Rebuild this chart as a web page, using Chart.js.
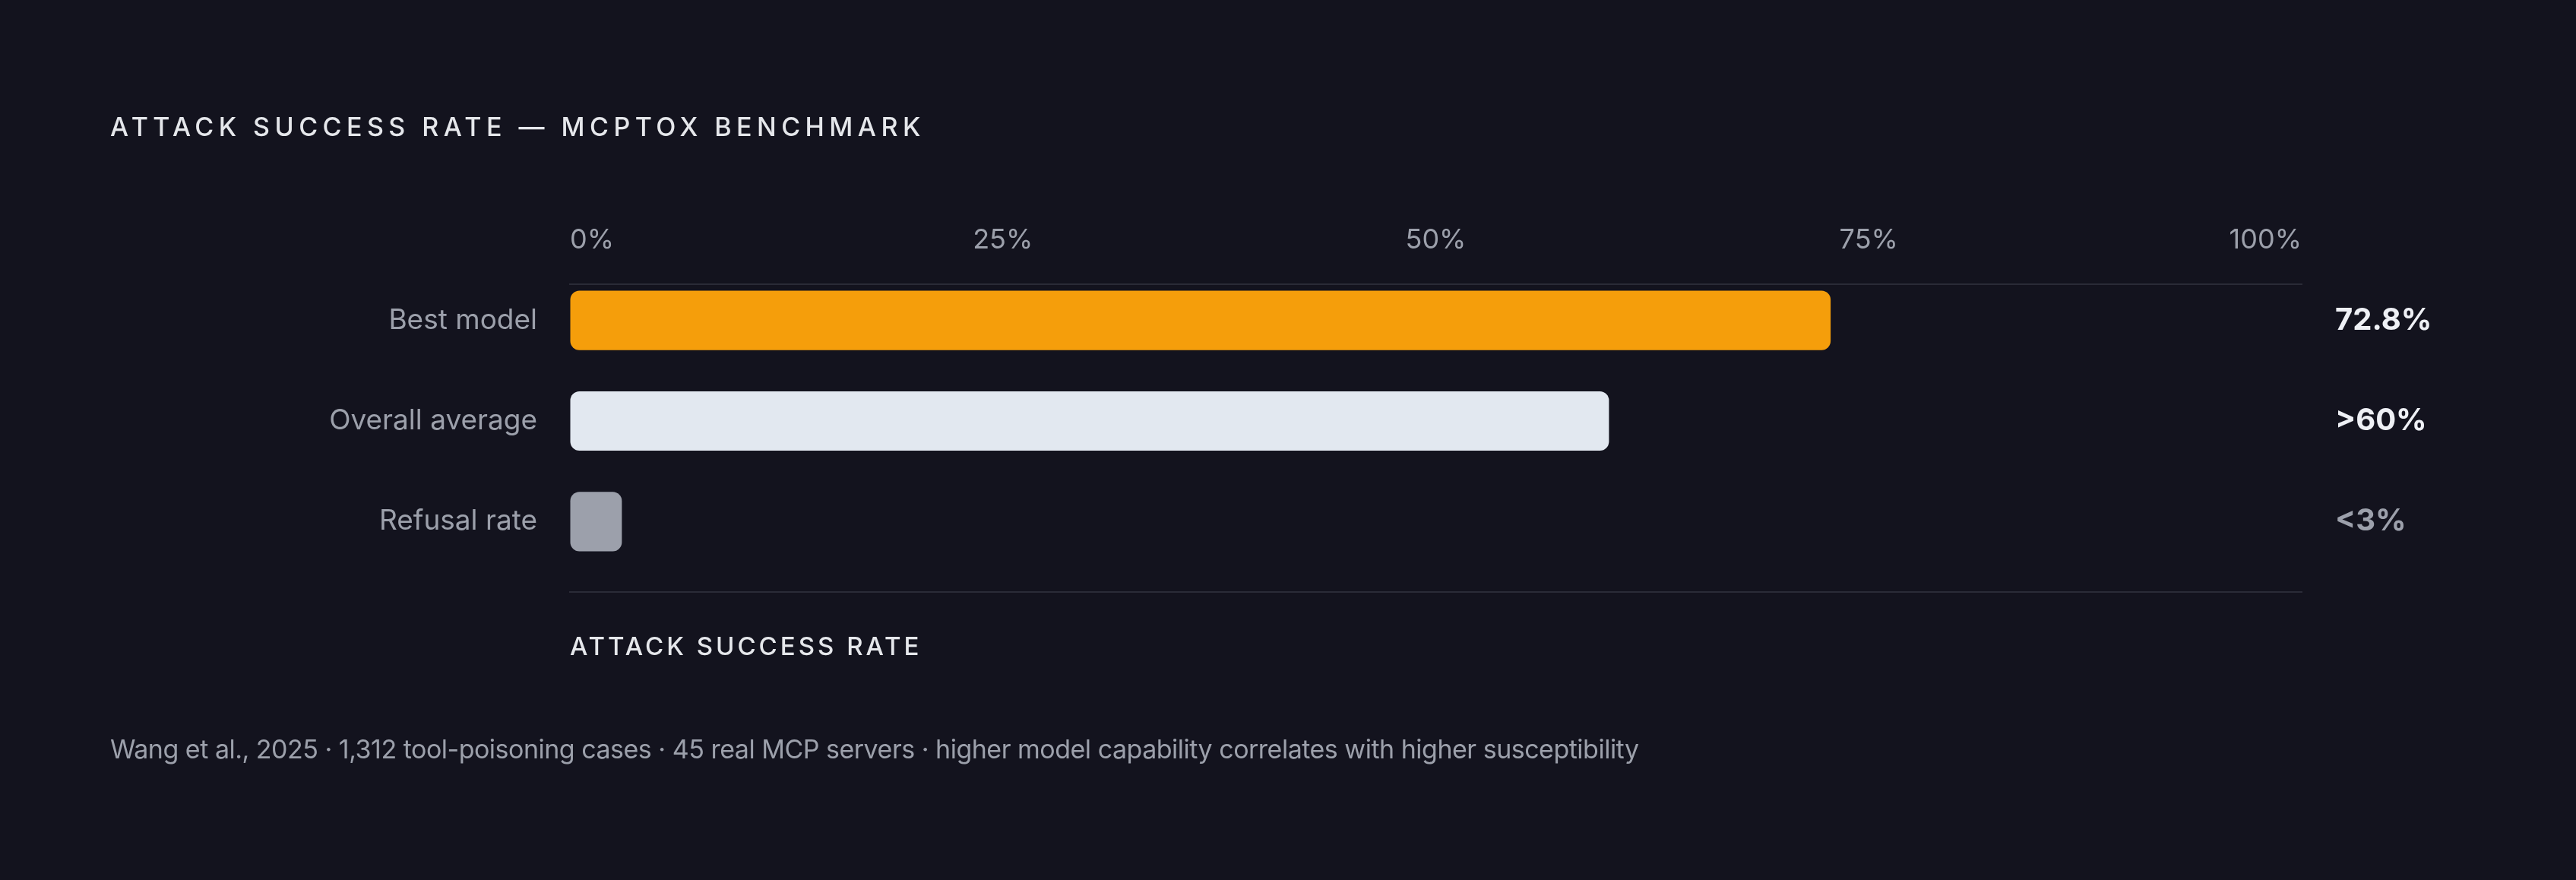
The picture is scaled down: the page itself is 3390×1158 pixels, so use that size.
<!DOCTYPE html>
<html>
<head>
    <title>Attack Success Rate — MCPTox Benchmark</title>
    <script src="https://cdn.jsdelivr.net/npm/chart.js"></script>
    <style>
        body {
            margin: 0;
            background: #13131e;
            font-family: Inter, "Noto Sans", sans-serif;
        }
        .wrap {
            position: relative;
            width: 3390px;
            height: 1158px;
        }
        .title {
            position: absolute;
            left: 145px;
            top: 150px;
            font-size: 34px;
            line-height: 1;
            font-weight: 500;
            letter-spacing: 0.19em;
            color: #e5e7eb;
            white-space: nowrap;
        }
        .note {
            position: absolute;
            left: 145px;
            top: 969px;
            font-size: 34px;
            line-height: 1;
            letter-spacing: -0.5px;
            color: #9ca0ab;
            white-space: nowrap;
        }
        .chart-box {
            position: absolute;
            left: 0;
            top: 0;
            width: 3390px;
            height: 1158px;
        }
    </style>
</head>
<body>
    <div class="wrap">
        <div class="chart-box"><canvas id="asrChart"></canvas></div>
        <div class="title">ATTACK SUCCESS RATE — MCPTOX BENCHMARK</div>
        <div class="note">Wang et al., 2025 · 1,312 tool-poisoning cases · 45 real MCP servers · higher model capability correlates with higher susceptibility</div>
    </div>

    <script>
        // Chart data
        const categories = ['Best model', 'Overall average', 'Refusal rate'];
        const rates = [72.8, 60, 3];
        const rateLabels = ['72.8%', '>60%', '<3%'];
        const barColors = ['#f59e0b', '#e2e8f0', '#9ca0ab'];
        const labelColors = ['#eef0f5', '#eef0f5', '#9ca0ab'];
        const axisTitle = 'ATTACK SUCCESS RATE';

        const lineColor = '#2a2b37';
        const mutedText = '#9ca0ab';

        // Value labels right of the plot and the spaced axis title below it
        const annotate = {
            id: 'annotate',
            afterDatasetsDraw(chart) {
                const { ctx, chartArea } = chart;
                const bars = chart.getDatasetMeta(0).data;
                ctx.save();
                ctx.font = '700 40px Inter, "Noto Sans", sans-serif';
                ctx.textBaseline = 'middle';
                ctx.textAlign = 'left';
                bars.forEach((bar, i) => {
                    ctx.fillStyle = labelColors[i];
                    ctx.fillText(rateLabels[i], chartArea.right + 44, bar.y);
                });
                ctx.font = '500 33px Inter, "Noto Sans", sans-serif';
                ctx.fillStyle = '#e5e7eb';
                ctx.letterSpacing = '4px';
                ctx.textBaseline = 'alphabetic';
                ctx.fillText(axisTitle, chartArea.left, chartArea.bottom + 83);
                ctx.restore();
            }
        };

        const ctx = document.getElementById('asrChart').getContext('2d');
        new Chart(ctx, {
            type: 'bar',
            data: {
                datasets: [{
                    data: rates.map((v, i) => ({ x: v, y: i })),
                    backgroundColor: barColors,
                    borderRadius: 12,
                    borderSkipped: false,
                    categoryPercentage: 1,
                    barPercentage: 0.59
                }]
            },
            options: {
                indexAxis: 'y',
                responsive: true,
                maintainAspectRatio: false,
                animation: false,
                layout: {
                    padding: { left: 0, right: 361, top: 250, bottom: 0 }
                },
                plugins: {
                    legend: { display: false },
                    tooltip: { enabled: false }
                },
                scales: {
                    x: {
                        type: 'linear',
                        position: 'top',
                        min: 0,
                        max: 100,
                        afterFit: s => { s.height = 124; },
                        ticks: {
                            stepSize: 25,
                            align: 'inner',
                            padding: 36,
                            color: mutedText,
                            font: { size: 36, family: 'Inter, "Noto Sans", sans-serif' },
                            callback: v => v + '%'
                        },
                        grid: { drawOnChartArea: false, drawTicks: false },
                        border: { color: lineColor, width: 2 }
                    },
                    x2: {
                        type: 'linear',
                        position: 'bottom',
                        min: 0,
                        max: 100,
                        afterFit: s => { s.height = 379; },
                        ticks: { display: false },
                        grid: { drawOnChartArea: false, drawTicks: false },
                        border: { color: lineColor, width: 2 }
                    },
                    y: {
                        type: 'linear',
                        offset: false,
                        reverse: true,
                        min: -0.36,
                        max: 2.7,
                        afterFit: s => { s.width = 750; },
                        afterBuildTicks: s => { s.ticks = categories.map((c, i) => ({ value: i })); },
                        ticks: {
                            padding: 35,
                            color: mutedText,
                            font: { size: 37, family: 'Inter, "Noto Sans", sans-serif' },
                            callback: v => categories[v]
                        },
                        grid: { display: false },
                        border: { display: false }
                    }
                }
            },
            plugins: [annotate]
        });
    </script>
</body>
</html>
